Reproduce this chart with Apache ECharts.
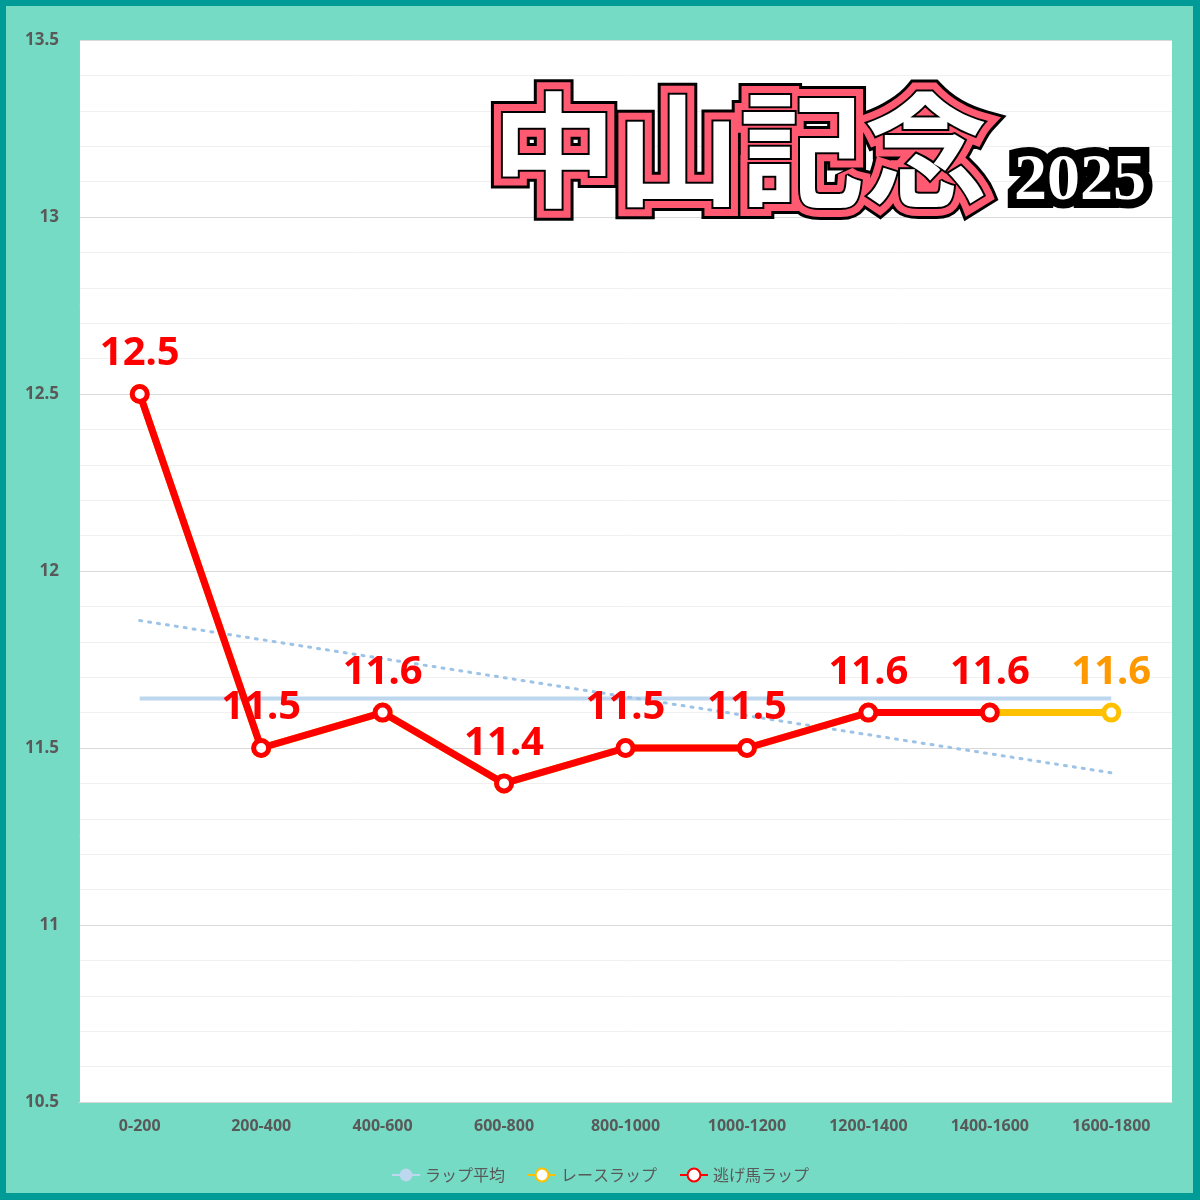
<!DOCTYPE html>
<html>
<head>
<meta charset="utf-8">
<script src="https://cdn.jsdelivr.net/npm/echarts@6/dist/echarts.min.js"></script>
<style>
html,body{margin:0;padding:0;background:#009B96;}
#frame{position:absolute;left:6px;top:6px;width:1187px;height:1187px;background:#76DBC4;}
#chart{position:absolute;left:0;top:0;width:1200px;height:1200px;}
</style>
</head>
<body>
<div id="frame"></div>
<div id="chart"></div>
<script>
const categories = ['0-200','200-400','400-600','600-800','800-1000','1000-1200','1200-1400','1400-1600','1600-1800'];
const raceLap   = [12.5, 11.5, 11.6, 11.4, 11.5, 11.5, 11.6, 11.6, 11.6];
const leaderLap = [12.5, 11.5, 11.6, 11.4, 11.5, 11.5, 11.6, 11.6, null];
const avgLap    = [11.64, 11.64, 11.64, 11.64, 11.64, 11.64, 11.64, 11.64, 11.64];
const trendLap  = [11.86, null, null, null, null, null, null, null, 11.43];
const yTicks = { min: 10.5, max: 13.5, interval: 0.5 };
const titleMain = '中山記念';
const titleYear = '2025';

const chart = echarts.init(document.getElementById('chart'), null, {renderer:'canvas'});
function gradObj(y0, y1){
  return {type:'linear', x:0, y:y0, x2:0, y2:y1, global:true,
    colorStops:[{offset:0,color:'#FF2E63'},{offset:1,color:'#FF8C82'}]};
}
function layered(text, x, y, font, g, wOuter, wPink){
  const base = {text, x, y, font, align:'left', verticalAlign:'middle', lineJoin:'round'};
  return [
    {type:'text', z:100, zlevel:0, style:Object.assign({}, base, {fill:'#000', stroke:'#000', lineWidth:wOuter})},
    {type:'text', z:101, zlevel:0, style:Object.assign({}, base, {fill:g, stroke:g, lineWidth:wPink})},
    {type:'text', z:102, zlevel:0, style:Object.assign({}, base, {fill:'#000', stroke:'#000', lineWidth:4})},
    {type:'text', z:103, zlevel:0, style:Object.assign({}, base, {fill:'#fff'})}
  ];
}
const graphics = [].concat(
  layered(titleMain, 492, 150, 'bold 124px "Noto Sans CJK JP"', '#FF5A72', 24, 18),
  layered(titleYear, 1014, 182, 'bold 66px "Liberation Serif"', gradObj(148, 216), 18, 12)
);

const labelFont = {fontFamily:'"Noto Sans", sans-serif', fontWeight:'bold', fontSize:40};

chart.setOption({
  animation:false,
  backgroundColor:'transparent',
  graphic: graphics,
  grid:{left:79, right:28, top:40, bottom:98, show:true, backgroundColor:'#fff', borderWidth:0},
  legend:{
    bottom:12, left:'center', itemWidth:28, itemHeight:16, itemGap:22,
    data:['ラップ平均','レースラップ','逃げ馬ラップ'],
    textStyle:{color:'#595959', fontSize:16, fontFamily:'"Noto Sans CJK JP"'}
  },
  xAxis:{
    type:'category', data:categories, boundaryGap:true,
    axisLine:{show:true, lineStyle:{color:'#D9D9D9', width:1}},
    axisTick:{show:false},
    axisLabel:{color:'#595959', fontSize:16, fontWeight:'bold', fontFamily:'"Noto Sans", sans-serif', margin:16}
  },
  yAxis:{
    type:'value', min:yTicks.min, max:yTicks.max, interval:yTicks.interval,
    axisLine:{show:true, lineStyle:{color:'#9DC3E6', width:1}},
    axisTick:{show:false},
    axisLabel:{color:'#595959', fontSize:17, fontWeight:'bold', fontFamily:'"Noto Sans", sans-serif', margin:20},
    splitLine:{show:true, lineStyle:{color:'#D9D9D9', width:1}},
    minorTick:{show:false, splitNumber:5},
    minorSplitLine:{show:true, lineStyle:{color:'#F0F0F0', width:1}}
  },
  series:[
    {name:'ラップ平均', type:'line', data:avgLap, symbol:'none', lineStyle:{color:'#BDD7EE', width:4}, itemStyle:{color:'#BDD7EE'}, z:2},
    {name:'近似', type:'line', data:trendLap, connectNulls:true, symbol:'none', lineStyle:{color:'#9DC3E6', width:3, type:[2,7], cap:'round'}, z:3},
    {name:'レースラップ', type:'line', data:raceLap, symbol:'circle', symbolSize:15,
      itemStyle:{color:'#fff', borderColor:'#FFC000', borderWidth:5},
      lineStyle:{color:'#FFC000', width:7}, z:4,
      label:{show:true, position:'top', distance:10, color:'#FF9900', ...labelFont,
        formatter:p => p.dataIndex === raceLap.length-1 ? String(p.value) : ''}
    },
    {name:'逃げ馬ラップ', type:'line', data:leaderLap, symbol:'circle', symbolSize:15,
      itemStyle:{color:'#fff', borderColor:'#FF0000', borderWidth:5},
      lineStyle:{color:'#FF0000', width:7}, z:5,
      label:{show:true, position:'top', distance:10, color:'#FF0000', ...labelFont,
        formatter:p => String(p.value)}
    }
  ]
});
</script>
</body>
</html>
